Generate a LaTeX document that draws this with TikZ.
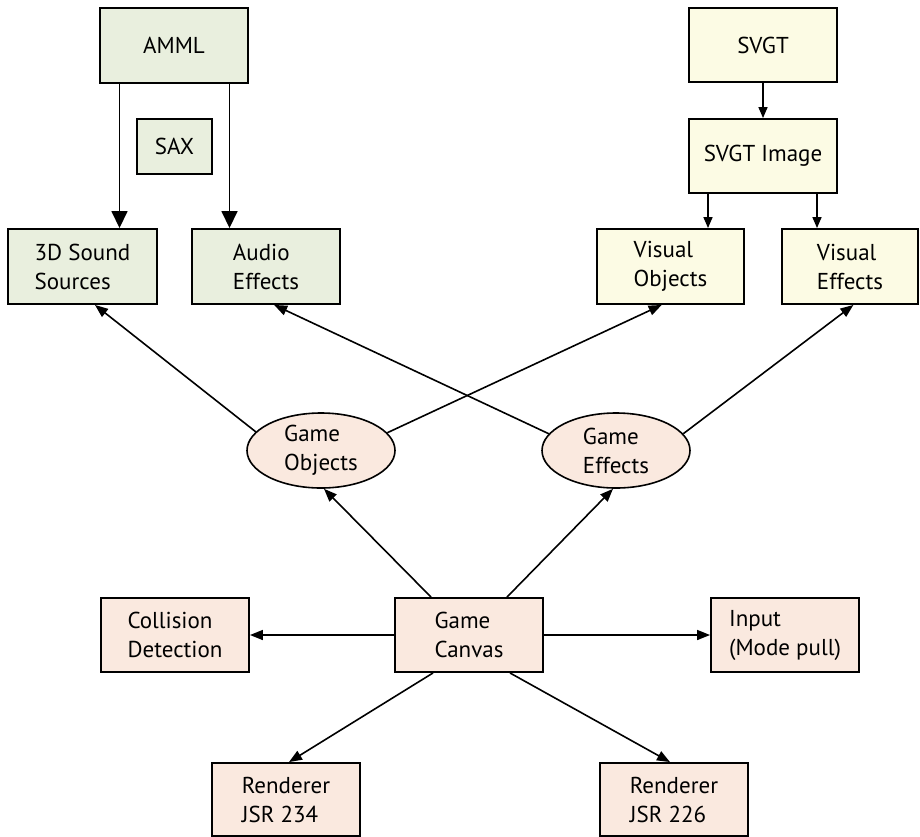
\documentclass[tikz,border=0pt]{standalone}
\usepackage{fontspec}
\setmainfont{PT Sans}
\usetikzlibrary{arrows.meta,shapes.geometric}
\definecolor{gfill}{RGB}{233,239,222}
\definecolor{yfill}{RGB}{252,251,228}
\definecolor{pfill}{RGB}{250,233,223}
\begin{document}
\begin{tikzpicture}[x=1pt,y=-1pt,
  box/.style={draw=black,line width=1.9pt,minimum width=148pt,minimum height=74pt,inner sep=0pt,align=left,font=\fontsize{23}{29}\selectfont},
  gbox/.style={box,fill=gfill},
  ybox/.style={box,fill=yfill},
  pbox/.style={box,fill=pfill},
  pell/.style={ellipse,draw=black,line width=1.6pt,fill=pfill,minimum width=148pt,minimum height=75pt,inner sep=0pt,align=left,font=\fontsize{23}{29}\selectfont},
  arr/.style={line width=1.6pt,-{Triangle[length=13pt,width=10pt]}},
  arrbig/.style={line width=1.6pt,-{Triangle[length=17pt,width=16pt]}},
  arrsm/.style={line width=1.6pt,-{Triangle[length=11pt,width=9pt]}}]
\useasboundingbox (0,0) rectangle (920,836);
% green
\node[gbox,minimum height=75pt] (amml) at (174,45.5) {AMML};
\node[gbox,minimum width=75pt,minimum height=55pt] (sax) at (174.5,146.5) {SAX};
\node[gbox,minimum width=149pt,minimum height=75pt] (snd) at (82.5,266.5) {3D Sound\\Sources};
\node[gbox,minimum height=75pt] (aud) at (266,266.5) {Audio\\Effects};
% yellow
\node[ybox] (svgt) at (763,45) {SVGT};
\node[ybox] (svgti) at (763,156) {SVGT Image};
\node[ybox,minimum width=147pt,minimum height=75pt] (vo) at (670.5,266.5) {Visual\\Objects};
\node[ybox,minimum width=136pt,minimum height=75pt] (ve) at (850,266.5) {Visual\\Effects};
% pink
\node[pell] (gobj) at (321,450.5) {Game\\Objects};
\node[pell] (geff) at (616,450.5) {Game\\Effects};
\node[pbox] (gc) at (469,635) {Game\\Canvas};
\node[pbox] (col) at (175,635) {Collision\\Detection};
\node[pbox] (inp) at (785,635) {Input\\(Mode pull)};
\node[pbox,minimum height=73pt] (r234) at (286,799.5) {Renderer\\JSR 234};
\node[pbox,minimum height=73pt] (r226) at (674,799.5) {Renderer\\JSR 226};
% connectors top
\draw[arrbig] ([xshift=-54.5pt]amml.south) -- ([xshift=-54.5pt]amml.south |- snd.north);
\draw[arrbig] ([xshift=55.5pt]amml.south) -- ([xshift=55.5pt]amml.south |- aud.north);
\draw[arrsm] (svgt) -- (svgti);
\draw[arrsm] ([xshift=-55pt]svgti.south) -- ([xshift=-55pt]svgti.south |- vo.north);
\draw[arrsm] ([xshift=54pt]svgti.south) -- ([xshift=54pt]svgti.south |- ve.north);
% ellipses to boxes
\draw[arr] (gobj.164) -- (snd.-72);
\draw[arr] (gobj.15) -- (vo.-103);
\draw[arr] (geff.166) -- (aud.-78);
\draw[arr] (geff.14) -- (ve.-85);
% canvas
\draw[arr] ([xshift=-38pt]gc.north) -- ([xshift=3pt]gobj.south);
\draw[arr] ([xshift=38pt]gc.north) -- ([xshift=-3pt]geff.south);
\draw[arr] (gc) -- (col);
\draw[arr] (gc) -- (inp);
\draw[arr] ([xshift=-36pt]gc.south) -- ([xshift=3pt]r234.north);
\draw[arr] ([xshift=41pt]gc.south) -- ([xshift=-4pt]r226.north);
\end{tikzpicture}
\end{document}
